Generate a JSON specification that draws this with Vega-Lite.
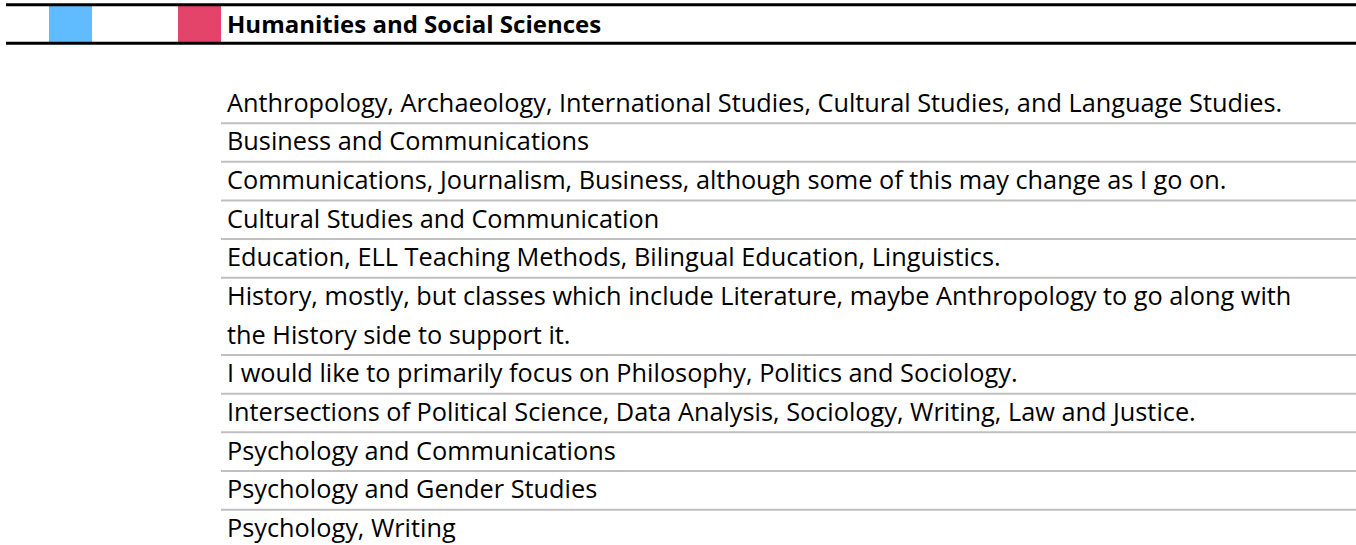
{
  "$schema": "https://vega.github.io/schema/vega-lite/v6.json",
  "width": 1356,
  "height": 545,
  "autosize": {"type": "pad"},
  "padding": 0,
  "background": "white",
  "config": {"view": {"stroke": null}, "text": {"font": "Open Sans", "fontSize": 25.3, "color": "#000000"}},
  "datasets": {
    "category": [{"category": "Humanities and Social Sciences"}],
    "colour_cells": [{"column": "B", "colour": "blue"}, {"column": "E", "colour": "pink"}],
    "responses": [
      {"response": "Anthropology, Archaeology, International Studies, Cultural Studies, and Language Studies.", "lines": 1},
      {"response": "Business and Communications", "lines": 1},
      {"response": "Communications, Journalism, Business, although some of this may change as I go on.", "lines": 1},
      {"response": "Cultural Studies and Communication", "lines": 1},
      {"response": "Education, ELL Teaching Methods, Bilingual Education, Linguistics.", "lines": 1},
      {"response": "History, mostly, but classes which include Literature, maybe Anthropology to go along with\nthe History side to support it.", "lines": 2},
      {"response": "I would like to primarily focus on Philosophy, Politics and Sociology.", "lines": 1},
      {"response": "Intersections of Political Science, Data Analysis, Sociology, Writing, Law and Justice.", "lines": 1},
      {"response": "Psychology and Communications", "lines": 1},
      {"response": "Psychology and Gender Studies", "lines": 1},
      {"response": "Psychology, Writing", "lines": 1}
    ]
  },
  "resolve": {"scale": {"x": "independent", "y": "shared"}},
  "layer": [
    {
      "data": {"name": "colour_cells"},
      "mark": {"type": "rect"},
      "encoding": {
        "x": {"field": "column", "type": "ordinal", "scale": {"type": "band", "domain": ["A", "B", "C", "D", "E"], "range": [6, 221], "paddingInner": 0, "paddingOuter": 0}, "axis": null},
        "y": {"datum": -2.065, "type": "quantitative", "scale": {"domain": [-2.1863, 11.9146], "zero": false, "nice": false, "reverse": true}, "axis": null},
        "y2": {"datum": -1.066},
        "color": {"field": "colour", "type": "nominal", "scale": {"domain": ["blue", "pink"], "range": ["#61bbff", "#e4446a"]}, "legend": null}
      }
    },
    {
      "data": {"name": "responses"},
      "transform": [
        {"window": [{"op": "sum", "field": "lines", "as": "row_end"}], "sort": [{"field": "response", "order": "ascending"}], "frame": [null, 0]}
      ],
      "layer": [
        {
          "mark": {"type": "rule", "color": "#bfbfbf", "strokeWidth": 2},
          "encoding": {
            "x": {"datum": 5, "type": "quantitative", "scale": {"domain": [-0.13953, 31.3953], "zero": false, "nice": false}, "axis": null},
            "x2": {"datum": 31.3953},
            "y": {"field": "row_end", "type": "quantitative"}
          }
        },
        {
          "transform": [{"filter": "datum.lines == 1"}],
          "mark": {"type": "text", "align": "left", "baseline": "alphabetic", "dx": 6, "dy": -11.5},
          "encoding": {
            "x": {"datum": 5, "type": "quantitative", "scale": {"domain": [-0.13953, 31.3953], "zero": false, "nice": false}, "axis": null},
            "y": {"field": "row_end", "type": "quantitative"},
            "text": {"field": "response", "type": "nominal"}
          }
        },
        {
          "transform": [{"filter": "datum.lines == 2"}],
          "mark": {"type": "text", "align": "left", "baseline": "alphabetic", "dx": 6, "dy": -50.15, "lineBreak": "\n", "lineHeight": 38.65},
          "encoding": {
            "x": {"datum": 5, "type": "quantitative", "scale": {"domain": [-0.13953, 31.3953], "zero": false, "nice": false}, "axis": null},
            "y": {"field": "row_end", "type": "quantitative"},
            "text": {"field": "response", "type": "nominal"}
          }
        }
      ]
    },
    {
      "data": {"name": "category"},
      "layer": [
        {
          "mark": {"type": "rule", "color": "#000000", "strokeWidth": 3},
          "encoding": {
            "x": {"datum": 0, "type": "quantitative", "scale": {"domain": [-0.13953, 31.3953], "zero": false, "nice": false}, "axis": null},
            "x2": {"datum": 31.3953},
            "y": {"datum": -2.065}
          }
        },
        {
          "mark": {"type": "rule", "color": "#000000", "strokeWidth": 3},
          "encoding": {
            "x": {"datum": 0, "type": "quantitative", "scale": {"domain": [-0.13953, 31.3953], "zero": false, "nice": false}, "axis": null},
            "x2": {"datum": 31.3953},
            "y": {"datum": -1.066}
          }
        },
        {
          "mark": {"type": "text", "align": "left", "baseline": "alphabetic", "dx": 6, "fontWeight": "bold", "fontSize": 24},
          "encoding": {
            "x": {"datum": 5, "type": "quantitative", "scale": {"domain": [-0.13953, 31.3953], "zero": false, "nice": false}, "axis": null},
            "y": {"datum": -1.3325},
            "text": {"field": "category", "type": "nominal"}
          }
        }
      ]
    }
  ]
}
